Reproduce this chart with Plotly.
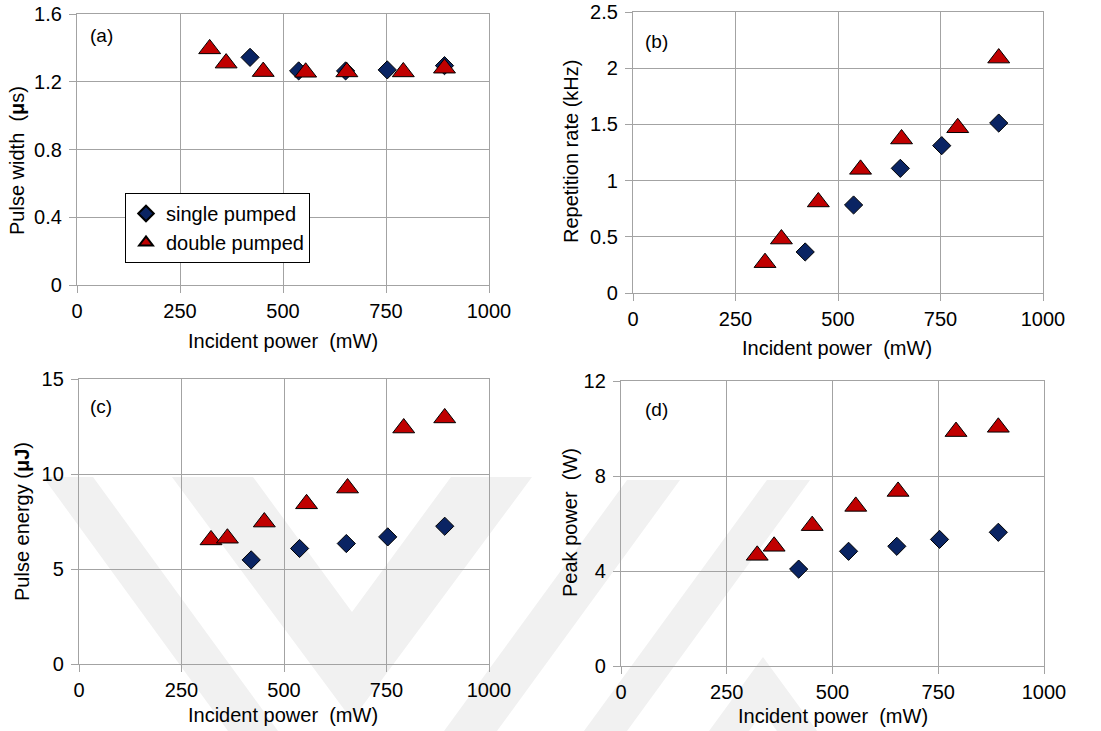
import plotly.graph_objects as go

W, H = 1101, 731

# ---------------- data ----------------
single_x = [420, 538, 652, 753, 892]
double_x = [322, 362, 452, 555, 655, 792, 892]

width_single = [1.344, 1.264, 1.264, 1.27, 1.295]
width_double = [1.394, 1.31, 1.26, 1.256, 1.258, 1.258, 1.28]

rate_single = [0.365, 0.783, 1.109, 1.311, 1.512]
rate_double = [0.27, 0.48, 0.81, 1.10, 1.37, 1.47, 2.09]

energy_single = [5.48, 6.08, 6.34, 6.69, 7.25]
energy_double = [6.53, 6.62, 7.47, 8.43, 9.26, 12.42, 12.95]

peak_single = [4.08, 4.83, 5.04, 5.33, 5.63]
peak_double = [4.66, 5.04, 5.91, 6.72, 7.35, 9.87, 10.05]

x_ticks = [0, 250, 500, 750, 1000]
panel_labels = ["(a)", "(b)", "(c)", "(d)"]
y_titles = ["Pulse width  (<b>μ</b>s)", "Repetition rate (kHz)",
            "Pulse energy (<b>μJ</b>)", "Peak power  (W)"]
x_title = "Incident power \u00a0(mW)"
y_ranges = [(0, 1.6, 0.4), (0, 2.5, 0.5), (0, 15, 5), (0, 12, 4)]
series_single = [width_single, rate_single, energy_single, peak_single]
series_double = [width_double, rate_double, energy_double, peak_double]

# ---------------- layout geometry (pixels) ----------------
# (left, right, top, bottom)
boxes = [(77, 489, 14, 285), (633, 1043, 12, 293),
         (79, 489, 379, 664), (621, 1044, 381, 666)]
xtitle_pos = [(283, 341), (837, 348), (283, 715), (833, 716)]
ytitle_pos = [(17, 161), (571, 152), (22, 522), (570, 523)]
label_pos = [(101, 36), (656, 41), (101, 407), (656, 409)]

FONT = "Liberation Sans, Arial, sans-serif"
GRID = "#A3A3A3"
NAVY = "#0A2463"
RED = "#C00000"

def px(x):
    return x / W

def py(y):
    return 1 - y / H

fig = go.Figure()

for i in range(4):
    n = i + 1
    xa = "x" if n == 1 else f"x{n}"
    ya = "y" if n == 1 else f"y{n}"
    fig.add_trace(go.Scatter(
        x=single_x, y=series_single[i], mode="markers", name="single pumped",
        xaxis=xa, yaxis=ya, showlegend=(i == 0), legendgroup="s",
        marker=dict(symbol="diamond", size=14, color=NAVY,
                    line=dict(color="black", width=1)),
        cliponaxis=False))
    fig.add_trace(go.Scatter(
        x=double_x, y=series_double[i], mode="markers", name="double pumped",
        xaxis=xa, yaxis=ya, showlegend=(i == 0), legendgroup="d",
        marker=dict(symbol="triangle-up", size=19, color=RED,
                    line=dict(color="black", width=1)),
        cliponaxis=False))

layout = dict(
    template="none",
    width=W, height=H, autosize=False,
    margin=dict(l=0, r=0, t=0, b=0, pad=0),
    paper_bgcolor="white", plot_bgcolor="rgba(0,0,0,0)",
    font=dict(family=FONT, size=20, color="black"),
    showlegend=True,
    legend=dict(x=px(125), y=py(193), xanchor="left", yanchor="top",
                bgcolor="white", bordercolor="black", borderwidth=1,
                font=dict(family=FONT, size=20, color="black"),
                itemsizing="constant", itemwidth=30, tracegroupgap=0),
)

annotations = []
for i in range(4):
    n = i + 1
    l, r, t, b = boxes[i]
    xk = "xaxis" if n == 1 else f"xaxis{n}"
    yk = "yaxis" if n == 1 else f"yaxis{n}"
    y0, y1, dy = y_ranges[i]
    common = dict(showgrid=True, gridcolor=GRID, gridwidth=1.3, automargin=False,
                  showline=True, linecolor=GRID, linewidth=1.3, mirror=True,
                  ticks="outside", ticklen=7, tickwidth=1.3, tickcolor=GRID,
                  zeroline=False, tickfont=dict(family=FONT, size=20, color="black"))
    layout[xk] = dict(domain=[px(l), px(r)], range=[0, 1000], tickvals=x_ticks,
                      anchor=("y" if n == 1 else f"y{n}"),
                      ticklabelstandoff=1, **common)
    layout[yk] = dict(domain=[py(b), py(t)], range=[y0, y1], dtick=dy, tick0=0,
                      anchor=("x" if n == 1 else f"x{n}"),
                      ticklabelstandoff=3, **common)
    xt = xtitle_pos[i]
    annotations.append(dict(text=x_title, x=px(xt[0]), y=py(xt[1]), xref="paper", yref="paper",
                            showarrow=False, xanchor="center", yanchor="middle",
                            font=dict(family=FONT, size=20, color="black")))
    yt = ytitle_pos[i]
    annotations.append(dict(text=y_titles[i], x=px(yt[0]), y=py(yt[1]), xref="paper", yref="paper",
                            showarrow=False, xanchor="center", yanchor="middle", textangle=-90,
                            font=dict(family=FONT, size=20, color="black")))
    lp = label_pos[i]
    annotations.append(dict(text=panel_labels[i], x=px(lp[0]), y=py(lp[1]), xref="paper", yref="paper",
                            showarrow=False, xanchor="center", yanchor="middle",
                            font=dict(family=FONT, size=19, color="black")))
layout["annotations"] = annotations

# faint background watermark (decoration), pixel polygons
watermark = [
    [(43, 477), (93, 477), (278, 731), (228, 731)],
    [(172, 477), (253, 477), (352, 612), (451, 477), (532, 477), (352, 720)],
    [(627, 480), (680, 480), (497, 731), (444, 731)],
    [(767, 480), (810, 480), (627, 731), (584, 731)],
    [(763, 657), (817, 731), (777, 731), (763, 712), (749, 731), (709, 731)],
]
shapes = []
for poly in watermark:
    path = "M " + " L ".join(f"{px(x):.4f},{py(y):.4f}" for x, y in poly) + " Z"
    shapes.append(dict(type="path", path=path, xref="paper", yref="paper",
                       fillcolor="#F1F1F1", line=dict(width=0), layer="below"))
layout["shapes"] = shapes

fig.update_layout(**layout)
fig.write_html("out.html")
